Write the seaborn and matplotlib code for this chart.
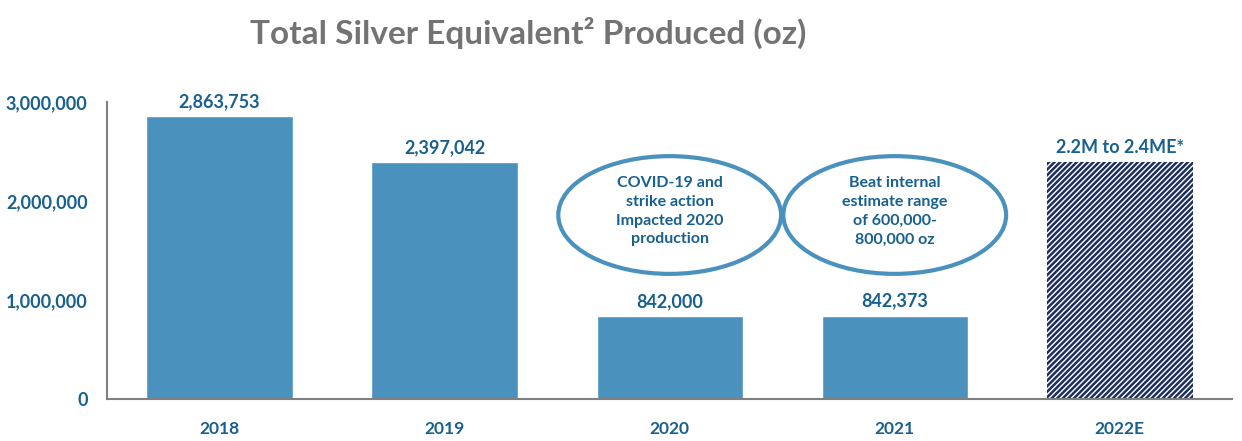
import matplotlib
matplotlib.use("Agg")
import matplotlib.pyplot as plt
import seaborn as sns
import pandas as pd
from matplotlib.patches import Ellipse
from matplotlib.ticker import FuncFormatter, FixedLocator

# ==========================================
# Data
# ==========================================
years = ["2018", "2019", "2020", "2021", "2022E"]
produced = [2863753, 2397042, 842000, 842373, 2400000]
value_labels = ["2,863,753", "2,397,042", "842,000", "842,373", "2.2M to 2.4ME*"]
notes = {
    "2020": "COVID-19 and\nstrike action\nImpacted 2020\nproduction",
    "2021": "Beat internal\nestimate range\nof 600,000-\n800,000 oz",
}

df = pd.DataFrame({"year": years, "oz": produced})

bar_color = "#4A92BD"
text_blue = "#17608F"
navy = "#1E2E5E"
axis_gray = "#808080"

# ==========================================
# Figure
# ==========================================
sns.set_style("white")
plt.rcParams["font.family"] = ["Lato", "DejaVu Sans"]
plt.rcParams["hatch.linewidth"] = 1.8

fig = plt.figure(figsize=(12.42, 4.41), dpi=100)
ax = fig.add_axes([0.0862, 0.0952, 0.906, 0.673])

sns.barplot(data=df, x="year", y="oz", color=bar_color, width=0.65,
            saturation=1, ax=ax)

# estimate bar: hatched
est = ax.patches[-1]
est.set_facecolor("white")
est.set_edgecolor(navy)
est.set_hatch("//////")
est.set_linewidth(0)

# value labels
for i, (v, lab) in enumerate(zip(produced, value_labels)):
    ax.text(i, v + 60000, lab, ha="center", va="bottom", fontsize=13,
            fontweight="bold", color=text_blue)

# note ellipses
for yr, note in notes.items():
    i = years.index(yr)
    ax.add_patch(Ellipse((i, 1860000), 0.99, 1190000, facecolor="white",
                         edgecolor=bar_color, linewidth=3, zorder=3))
    ax.text(i, 1900000, note, ha="center", va="center", fontsize=11.5,
            fontweight="bold", color=text_blue, linespacing=1.45, zorder=4)

# ==========================================
# Axes styling
# ==========================================
ax.set_xlim(-0.5, 4.5)
ax.set_ylim(0, 3000000)
ax.set_yticks([0, 1000000, 2000000, 3000000])
ax.yaxis.set_major_formatter(FuncFormatter(lambda v, p: f"{int(v):,}"))
ax.set_xlabel("")
ax.set_ylabel("")

for s in ["top", "right"]:
    ax.spines[s].set_visible(False)
for s in ["left", "bottom"]:
    ax.spines[s].set_color(axis_gray)
    ax.spines[s].set_linewidth(1.5)

ax.tick_params(axis="y", length=6, width=1.5, color=axis_gray, pad=8,
               labelsize=13, labelcolor=text_blue)
ax.tick_params(axis="x", which="major", length=0, pad=16,
               labelsize=12.5, labelcolor=text_blue)
ax.xaxis.set_minor_locator(FixedLocator([-0.5, 0.5, 1.5, 2.5, 3.5, 4.5]))
ax.tick_params(axis="x", which="minor", length=6, width=1.5, color=axis_gray)
for lab in ax.get_xticklabels() + ax.get_yticklabels():
    lab.set_fontweight("bold")

fig.text(0.425, 0.925, "Total Silver Equivalent² Produced (oz)", ha="center",
         va="center", fontsize=24, fontweight="bold", color="#737373")

fig.savefig("out.png", dpi=100)
plt.close(fig)
